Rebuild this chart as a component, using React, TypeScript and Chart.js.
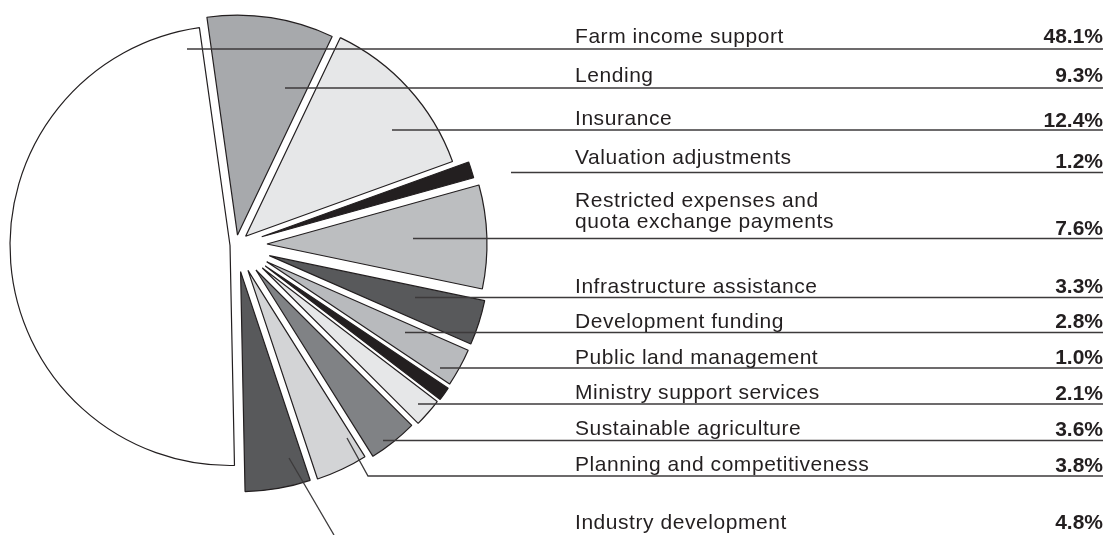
import React, { useEffect, useRef } from "react";
import { Chart, registerables } from "chart.js";

Chart.register(...registerables);

// ---- data (clockwise from the top) ----
const categories = [
  "Lending",
  "Insurance",
  "Valuation adjustments",
  "Restricted expenses and quota exchange payments",
  "Infrastructure assistance",
  "Development funding",
  "Public land management",
  "Ministry support services",
  "Sustainable agriculture",
  "Planning and competitiveness",
  "Industry development",
  "Farm income support",
];
const shares = [9.3, 12.4, 1.2, 7.6, 3.3, 2.8, 1.0, 2.1, 3.6, 3.8, 4.8, 48.1];
const valueLabels = ["9.3%", "12.4%", "1.2%", "7.6%", "3.3%", "2.8%", "1.0%", "2.1%", "3.6%", "3.8%", "4.8%", "48.1%"];
const labelLines = [
  ["Lending"],
  ["Insurance"],
  ["Valuation adjustments"],
  ["Restricted expenses and", "quota exchange payments"],
  ["Infrastructure assistance"],
  ["Development funding"],
  ["Public land management"],
  ["Ministry support services"],
  ["Sustainable agriculture"],
  ["Planning and competitiveness"],
  ["Industry development"],
  ["Farm income support"],
];

// ---- styles ----
const sliceColors = [
  "#a7a9ac", "#e6e7e8", "#231f20", "#bcbec0", "#58595b", "#b8babd",
  "#231f20", "#e6e7e8", "#808285", "#d3d4d6", "#58595b", "#ffffff",
];
const explodeDistance = [10, 13, 27, 31, 35, 35, 36, 35, 32, 28, 27, 6];
const INK = "#231f20";

// ---- label layout ----
const labelX = 575;
const rightX = 1103;
const labelBaselines = [[82], [125], [164], [207, 227.5], [292.5], [328], [363.5], [398.5], [435], [471], [529], [43]];
const valueBaselines = [82, 126.5, 168, 234.5, 293.3, 328, 364, 399.5, 436, 471.5, 529, 43];
const ruleY: (number | null)[] = [88, 130, 172.5, 238.5, 297.5, 332.5, 368, 404, 440.5, 476, null, 49];
const leaderPoints: number[][][] = [
  [[285, 88]],
  [[392, 130]],
  [[511, 172.5]],
  [[413, 238.5]],
  [[415, 297.5]],
  [[405, 332.5]],
  [[440, 368]],
  [[418, 404]],
  [[383, 440.5]],
  [[347, 438], [368, 476]],
  [[289, 458], [334, 535]],
  [[187, 49]],
];

const explodePlugin = {
  id: "explodeSlices",
  afterDatasetUpdate(chart: any) {
    const meta = chart.getDatasetMeta(0);
    const area = chart.chartArea;
    const cx = (area.left + area.right) / 2;
    const cy = (area.top + area.bottom) / 2;
    meta.data.forEach((arc: any, i: number) => {
      const mid = (arc.startAngle + arc.endAngle) / 2;
      const t = explodeDistance[i] || 0;
      arc.x = cx + Math.cos(mid) * t;
      arc.y = cy + Math.sin(mid) * t;
    });
  },
};

const labelPlugin = {
  id: "sideLabels",
  afterDraw(chart: any) {
    const ctx: CanvasRenderingContext2D = chart.ctx;
    ctx.save();
    ctx.strokeStyle = "#3c3a3b";
    ctx.lineWidth = 1.3;
    leaderPoints.forEach((pts, i) => {
      ctx.beginPath();
      ctx.moveTo(pts[0][0], pts[0][1]);
      for (let k = 1; k < pts.length; k++) ctx.lineTo(pts[k][0], pts[k][1]);
      const ry = ruleY[i];
      if (ry !== null) ctx.lineTo(rightX, ry);
      ctx.stroke();
    });
    ctx.fillStyle = INK;
    ctx.textBaseline = "alphabetic";
    (ctx as any).letterSpacing = "0.55px";
    ctx.font = '21px "Liberation Sans", Arial, sans-serif';
    ctx.textAlign = "left";
    labelLines.forEach((lines, i) => {
      lines.forEach((line, k) => ctx.fillText(line, labelX, labelBaselines[i][k]));
    });
    ctx.font = 'bold 21px "Liberation Sans", Arial, sans-serif';
    (ctx as any).letterSpacing = "0px";
    ctx.textAlign = "right";
    valueLabels.forEach((v, i) => ctx.fillText(v, rightX, valueBaselines[i]));
    ctx.restore();
  },
};

export default function App() {
  const canvasRef = useRef<HTMLCanvasElement>(null);
  useEffect(() => {
    const canvas = canvasRef.current;
    if (!canvas) return;
    const chart = new Chart(canvas, {
      type: "pie",
      data: {
        labels: categories,
        datasets: [
          {
            data: shares,
            backgroundColor: sliceColors,
            borderColor: INK,
            borderWidth: 1.2,
            clip: false as any,
          },
        ],
      },
      options: {
        responsive: false,
        animation: false,
        events: [],
        rotation: -8,
        radius: 220,
        layout: { padding: { left: 6, top: 0, right: 642, bottom: 45 } },
        plugins: {
          legend: { display: false },
          tooltip: { enabled: false },
        },
      },
      plugins: [explodePlugin, labelPlugin],
    });
    return () => chart.destroy();
  }, []);
  return (
    <div style={{ position: "absolute", left: 0, top: 0, width: 1108, height: 535, background: "#fff" }}>
      <canvas ref={canvasRef} width={1108} height={535} style={{ display: "block" }} />
    </div>
  );
}
